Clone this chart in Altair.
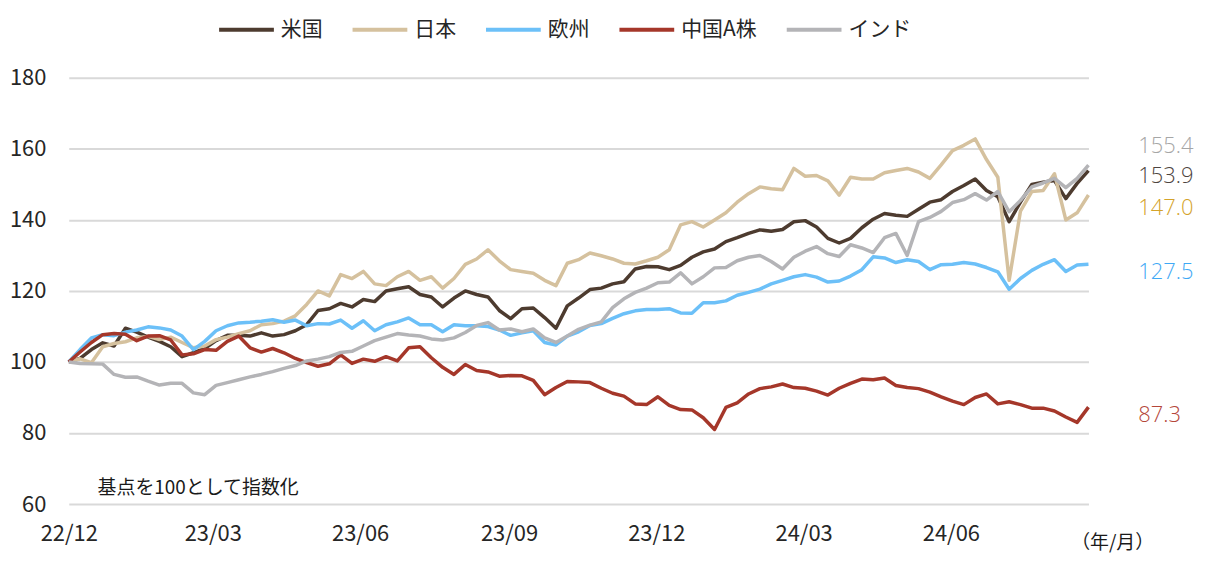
import altair as alt
import pandas as pd

# ---- data (weekly readings, index = 100 at 2022-12-30) ----
start_date = "2022-12-30"

us = [100, 101, 103.5, 105.4, 104.5, 109.5, 108.4, 107, 105.8, 104.3,
      101.5, 102.6, 103.8, 106, 107.5, 107.5, 107.3, 108.2, 107.3, 107.7,
      108.8, 110.5, 114.5, 115, 116.5, 115.5, 117.6, 117, 120, 120.6,
      121.2, 119, 118.3, 115.5, 118, 120, 119, 118.3, 114.5, 112.2,
      115, 115.2, 112.5, 109.5, 115.8, 118, 120.4, 120.8, 122, 122.6,
      126.2, 126.9, 126.8, 126, 127.2, 129.5, 131, 131.8, 133.9, 135,
      136.2, 137.2, 136.8, 137.3, 139.5, 139.8, 138, 134.8, 133.5, 134.8,
      137.8, 140.2, 141.8, 141.3, 141, 143, 145, 145.7, 148, 149.7,
      151.5, 148.3, 146.5, 139.5, 145, 150, 150.6, 151.1, 146, 150.3, 153.9]

jp = [100, 100.9, 99.8, 104.3, 105.2, 105.7, 106.8, 107.2, 106.3, 107,
      105.5, 104, 104.5, 106.3, 107, 108, 108.8, 110.5, 110.8, 111.5,
      113, 116.2, 120, 118.6, 124.6, 123.5, 125.5, 122, 121.5, 124,
      125.5, 123, 124, 120.8, 123.5, 127.5, 129, 131.6, 128.5, 126,
      125.5, 125, 123, 121.5, 127.8, 128.8, 130.7, 129.9, 129, 127.8,
      127.6, 128.5, 129.5, 131.6, 138.6, 139.5, 138, 140, 142, 145,
      147.4, 149.3, 148.8, 148.5, 154.5, 152.3, 152.5, 151, 147, 152,
      151.5, 151.5, 153.3, 153.9, 154.5, 153.5, 151.7, 155.5, 159.5, 161,
      162.8, 157, 152, 123, 142.5, 148, 148.3, 153, 140, 142, 147]

eu = [100, 103.5, 106.8, 107.7, 107.4, 108.4, 109, 109.9, 109.6, 109,
      107.3, 103.5, 105.8, 108.8, 110.2, 111, 111.2, 111.5, 111.9, 111.2,
      111.8, 110.2, 110.8, 110.7, 111.8, 109.5, 111.6, 108.8, 110.5, 111.3,
      112.4, 110.5, 110.5, 108.5, 110.5, 110.2, 110.2, 110, 109, 107.5,
      108.2, 108.8, 105.5, 104.8, 107.3, 108.5, 110.3, 110.8, 112.3, 113.6,
      114.4, 114.8, 114.8, 115, 113.8, 113.7, 116.7, 116.7, 117.2, 118.8,
      119.6, 120.5, 122, 123, 124, 124.6, 123.9, 122.5, 122.8, 124.2,
      126, 129.6, 129.3, 128, 128.8, 128.3, 126, 127.4, 127.5, 128,
      127.6, 126.6, 125.4, 120.5, 123.5, 125.8, 127.5, 128.8, 125.5, 127.3, 127.5]

cn = [100, 102.8, 105.5, 107.7, 108, 107.8, 106, 107.3, 107.4, 106.2,
      102, 102.3, 103.5, 103.3, 105.8, 107.3, 104, 102.8, 103.8, 102.6,
      101, 99.8, 98.8, 99.5, 102, 99.6, 100.8, 100.2, 101.5, 100.3,
      104, 104.3, 101.2, 98.5, 96.5, 99.3, 97.6, 97.2, 96, 96.2,
      96.1, 94.8, 90.8, 92.8, 94.5, 94.4, 94.2, 92.6, 91.2, 90.4,
      88.2, 88, 90.2, 87.8, 86.6, 86.5, 84.3, 81, 87.2, 88.5,
      91, 92.5, 93, 93.8, 92.8, 92.6, 91.8, 90.7, 92.6, 94,
      95.2, 95, 95.5, 93.4, 92.8, 92.5, 91.5, 90.2, 89, 88,
      90, 91, 88.2, 88.8, 88, 87, 87, 86.2, 84.5, 83, 87.3]

india = [100, 99.6, 99.5, 99.4, 96.5, 95.7, 95.8, 94.6, 93.5, 94,
         94, 91.3, 90.8, 93.4, 94.2, 95, 95.8, 96.5, 97.3, 98.2,
         99, 100.3, 100.8, 101.5, 102.7, 103, 104.5, 106, 107, 108,
         107.6, 107.3, 106.5, 106.2, 106.8, 108.3, 110.3, 111.1, 109, 109.3,
         108.5, 109.3, 106.8, 105.5, 107.3, 109.2, 110.4, 111.3, 115.3, 117.8,
         119.6, 120.8, 122.3, 122.5, 125.1, 122, 124, 126.5, 126.6, 128.5,
         129.5, 130, 128.3, 126.2, 129.5, 131.2, 132.5, 130.5, 129.7, 133,
         132.1, 130.8, 135, 136.2, 130, 139.5, 140.7, 142.4, 144.9, 145.7,
         147.4, 145.6, 148, 142.3, 145.5, 149.3, 150.4, 151.7, 149.1, 151.7, 155.4]

series_names = ["米国", "日本", "欧州", "中国A株", "インド"]
series_values = [us, jp, eu, cn, india]
x_tick_dates = [(2022, 12, 30), (2023, 3, 29), (2023, 6, 28), (2023, 9, 28),
                (2023, 12, 28), (2024, 3, 28), (2024, 6, 27)]
y_ticks = [60, 80, 100, 120, 140, 160, 180]
note_text = "基点を100として指数化"
unit_text = "（年/月）"

# ---- styles ----
line_colors = ["#4D3B2F", "#D5C19E", "#6CC0F8", "#A5372A", "#B4B4B7"]
label_colors = ["#4D4440", "#D4A32A", "#3FA9F5", "#B5473A", "#A6A6A6"]
label_dy = {"米国": 6, "日本": 13, "欧州": 8, "中国A株": 8, "インド": -19}
FONT = "Noto Sans CJK JP"

dates = pd.date_range(start_date, periods=len(us), freq="7D")
rows = []
for name, vals in zip(series_names, series_values):
    for d, v in zip(dates, vals):
        rows.append({"date": d.strftime("%Y-%m-%d"), "series": name, "value": v})
df = pd.DataFrame(rows)

dt_start = alt.DateTime(year=dates[0].year, month=dates[0].month, date=dates[0].day, utc=True)
dt_end = alt.DateTime(year=dates[-1].year, month=dates[-1].month, date=dates[-1].day, utc=True)
tick_dt = [alt.DateTime(year=y, month=m, date=d, utc=True) for (y, m, d) in x_tick_dates]

color_scale = alt.Scale(domain=series_names, range=line_colors)

x_enc = alt.X(
    "date:T",
    scale=alt.Scale(type="utc", domain=[dt_start, dt_end], nice=False),
    axis=alt.Axis(values=tick_dt, labelExpr="utcFormat(datum.value, '%y/%m')",
                  labelFlush=False, grid=False, domain=False, ticks=False,
                  labelPadding=20, labelFontSize=22, labelFont=FONT,
                  labelColor="#262626", labelOverlap=False),
    title=None,
)
y_enc = alt.Y(
    "value:Q",
    scale=alt.Scale(domain=[60, 180], nice=False, zero=False),
    axis=alt.Axis(values=y_ticks, grid=True, gridColor="#D9D9D9", gridWidth=2,
                  domain=False, ticks=False, labelPadding=23, labelFontSize=22,
                  labelFont=FONT, labelColor="#262626"),
    title=None,
)
color_enc = alt.Color(
    "series:N", scale=color_scale,
    legend=alt.Legend(orient="none", legendX=149, legendY=-78, direction="horizontal",
                      title=None, symbolType="stroke", symbolSize=3025,
                      symbolStrokeWidth=4, labelFontSize=21, labelFont=FONT,
                      labelColor="#262626", labelOffset=5, columnPadding=22),
)

base = alt.Chart(df)
layers = []
for name in series_names:
    layers.append(
        base.transform_filter(alt.datum.series == name)
        .mark_line(strokeWidth=3.5, strokeJoin="round")
        .encode(x=x_enc, y=y_enc, color=color_enc)
    )

for name, vals, col in zip(series_names, series_values, label_colors):
    ldf = pd.DataFrame({"date": [dates[-1].strftime("%Y-%m-%d")], "value": [vals[-1]],
                        "txt": [f"{vals[-1]:.1f}"]})
    layers.append(
        alt.Chart(ldf).mark_text(align="left", baseline="middle", dx=50, dy=label_dy[name],
                                 fontSize=22, font="Open Sans", fontWeight=300, color=col)
        .encode(x=alt.X("date:T"), y=alt.Y("value:Q"), text="txt:N")
    )

layers.append(
    alt.Chart(pd.DataFrame({"t": [note_text]}))
    .mark_text(align="left", baseline="middle", fontSize=19, font=FONT, color="#1a1a1a")
    .encode(x=alt.value(29), y=alt.value(412), text="t:N")
)
layers.append(
    alt.Chart(pd.DataFrame({"t": [unit_text]}))
    .mark_text(align="right", baseline="middle", fontSize=19, font=FONT, color="#1a1a1a")
    .encode(x=alt.value(1090), y=alt.value(467), text="t:N")
)

chart = (
    alt.layer(*layers)
    .properties(width=1024, height=428,
                autosize=alt.AutoSizeParams(type="none"),
                padding={"left": 61, "top": 69, "right": 112, "bottom": 48})
    .configure_view(stroke=None)
)

chart.save("out.html", embed_options={"renderer": "svg", "actions": False})
